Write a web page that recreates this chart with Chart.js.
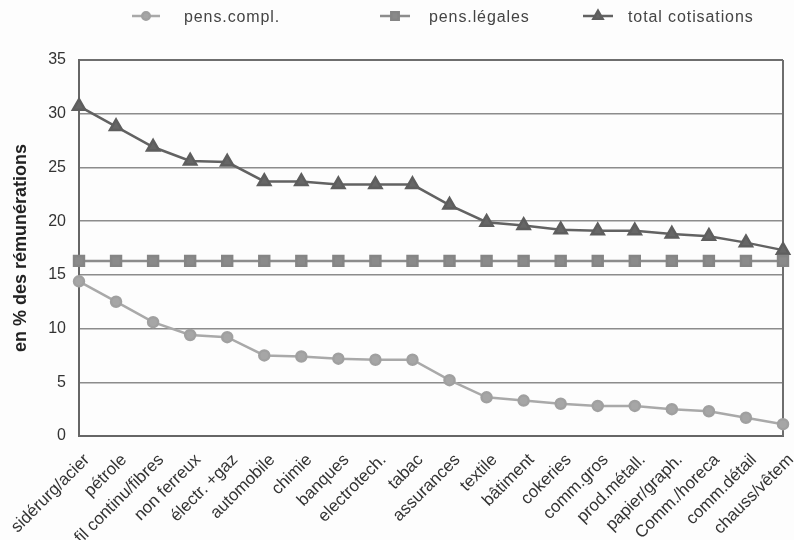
<!DOCTYPE html>
<html>
<head>
<meta charset="utf-8">
<script src="https://cdn.jsdelivr.net/npm/chart.js@4/dist/chart.umd.min.js"></script>
<style>
  html, body { margin: 0; padding: 0; background: #fdfdfd; }
  #wrap { width: 794px; height: 540px; }
</style>
</head>
<body>
<div id="wrap"><canvas id="c" width="794" height="540"></canvas></div>
<script>
// Secteurs, classés par total des cotisations décroissant
const categories = [
  'sidérurg/acier', 'pétrole', 'fil continu/fibres', 'non ferreux', 'électr. +gaz',
  'automobile', 'chimie', 'banques', 'electrotech.', 'tabac', 'assurances',
  'textile', 'bâtiment', 'cokeries', 'comm.gros', 'prod.métall.',
  'papier/graph.', 'Comm./horeca', 'comm.détail', 'chauss/vêtem'
];

// Cotisations en % des rémunérations
const pensCompl = [14.4, 12.5, 10.6, 9.4, 9.2, 7.5, 7.4, 7.2, 7.1, 7.1, 5.2,
                   3.6, 3.3, 3.0, 2.8, 2.8, 2.5, 2.3, 1.7, 1.1];
const pensLegales = [16.3, 16.3, 16.3, 16.3, 16.3, 16.3, 16.3, 16.3, 16.3, 16.3,
                     16.3, 16.3, 16.3, 16.3, 16.3, 16.3, 16.3, 16.3, 16.3, 16.3];
const totalCotisations = [30.7, 28.8, 26.9, 25.6, 25.5, 23.7, 23.7, 23.4, 23.4, 23.4, 21.5,
                          19.9, 19.6, 19.2, 19.1, 19.1, 18.8, 18.6, 18.0, 17.3];

const seriesNames = ['pens.compl.', 'pens.légales', 'total cotisations'];
const yTicks = [0, 5, 10, 15, 20, 25, 30, 35];
const yTitle = 'en % des rémunérations';

const FONT = "'Liberation Sans', Arial, sans-serif";

// Page background
const backgroundPlugin = {
  id: 'background',
  beforeDraw(chart) {
    const ctx = chart.ctx;
    ctx.save();
    ctx.fillStyle = '#fdfdfd';
    ctx.fillRect(0, 0, chart.width, chart.height);
    ctx.restore();
  }
};

// Right-hand border of the plot area
const frameRight = {
  id: 'frameRight',
  beforeDatasetsDraw(chart) {
    const { ctx, chartArea: a } = chart;
    ctx.save();
    ctx.strokeStyle = '#6e6e6e';
    ctx.lineWidth = 2;
    ctx.beginPath();
    ctx.moveTo(a.right, a.top);
    ctx.lineTo(a.right, a.bottom);
    ctx.stroke();
    ctx.restore();
  }
};

// Legend drawn as line + marker, like the series themselves
const lineLegend = {
  id: 'lineLegend',
  afterDraw(chart) {
    const ctx = chart.ctx;
    const slots = [
      { x1: 132, x2: 160, tx: 184 },
      { x1: 380, x2: 410, tx: 429 },
      { x1: 583, x2: 613, tx: 628 }
    ];
    const y = 16;
    ctx.save();
    chart.data.datasets.forEach((ds, i) => {
      const s = slots[i];
      ctx.strokeStyle = ds.borderColor;
      ctx.lineWidth = 2.5;
      ctx.beginPath();
      ctx.moveTo(s.x1, y);
      ctx.lineTo(s.x2, y);
      ctx.stroke();
      ctx.fillStyle = ds.pointBackgroundColor;
      ctx.strokeStyle = ds.pointBorderColor;
      Chart.helpers.drawPoint(ctx, {
        pointStyle: ds.pointStyle,
        radius: ds.pointRadius * 0.75,
        rotation: 0,
        borderWidth: 1
      }, (s.x1 + s.x2) / 2, y);
      ctx.fillStyle = '#444';
      ctx.font = '16px ' + FONT;
      ctx.letterSpacing = '0.9px';
      ctx.textBaseline = 'middle';
      ctx.textAlign = 'left';
      ctx.fillText(ds.label, s.tx, y + 2);
    });
    ctx.restore();
  }
};

new Chart(document.getElementById('c'), {
  type: 'line',
  data: {
    labels: categories,
    datasets: [
      {
        label: seriesNames[0],
        data: pensCompl,
        borderColor: '#a9a9a9',
        backgroundColor: '#a9a9a9',
        pointBackgroundColor: '#a6a6a6',
        pointBorderColor: '#a0a0a0',
        pointStyle: 'circle',
        pointRadius: 5,
        borderWidth: 2.5,
        tension: 0,
        clip: false
      },
      {
        label: seriesNames[1],
        data: pensLegales,
        borderColor: '#8c8c8c',
        backgroundColor: '#8c8c8c',
        pointBackgroundColor: '#8a8a8a',
        pointBorderColor: '#858585',
        pointStyle: 'rect',
        pointRadius: 7,
        borderWidth: 2.5,
        tension: 0,
        clip: false
      },
      {
        label: seriesNames[2],
        data: totalCotisations,
        borderColor: '#626262',
        backgroundColor: '#626262',
        pointBackgroundColor: '#666666',
        pointBorderColor: '#5e5e5e',
        pointStyle: 'triangle',
        pointRadius: 7,
        borderWidth: 2.5,
        tension: 0,
        clip: false
      }
    ]
  },
  options: {
    responsive: false,
    animation: false,
    devicePixelRatio: 1,
    layout: { padding: { top: 60, right: 11, left: 0, bottom: 0 } },
    plugins: {
      legend: { display: false },
      tooltip: { enabled: false }
    },
    scales: {
      x: {
        offset: false,
        grid: { display: false },
        border: { display: true, color: '#666', width: 2 },
        ticks: {
          autoSkip: false,
          maxRotation: 45,
          minRotation: 45,
          padding: 6,
          labelOffset: 8,
          color: '#333',
          font: { family: FONT, size: 17 }
        },
        afterFit(scale) {
          scale.height = 104;
          scale.paddingLeft = 0;
          scale.paddingRight = 0;
        }
      },
      y: {
        min: 0,
        max: 35,
        afterBuildTicks(scale) {
          scale.ticks = yTicks.map(v => ({ value: v }));
        },
        grid: {
          color: ctx => (ctx.tick && ctx.tick.value === 35) ? '#6e6e6e' : '#8c8c8c',
          lineWidth: ctx => (ctx.tick && ctx.tick.value === 35) ? 2 : 1.5,
          drawTicks: false
        },
        border: { display: true, color: '#666', width: 2 },
        ticks: {
          padding: 13,
          color: '#333',
          font: { family: FONT, size: 16 }
        },
        title: {
          display: true,
          text: yTitle,
          color: '#222',
          padding: { top: 10, bottom: 0 },
          font: { family: FONT, size: 18, weight: 'bold' }
        },
        afterFit(scale) {
          scale.width = 79;
        }
      }
    }
  },
  plugins: [backgroundPlugin, frameRight, lineLegend]
});
</script>
</body>
</html>
